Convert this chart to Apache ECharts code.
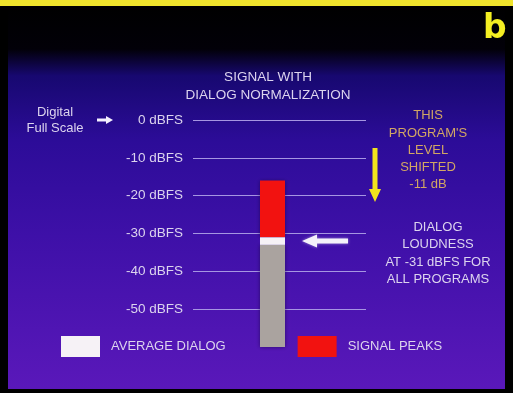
<!DOCTYPE html>
<html>
<head>
<meta charset="utf-8">
<script src="https://cdn.jsdelivr.net/npm/echarts@6/dist/echarts.min.js"></script>
<style>
  html, body { margin: 0; padding: 0; background: #000; }
  #chart { width: 513px; height: 393px; }
</style>
</head>
<body>
<div id="chart"></div>
<script>
// Level scale (dBFS) and its labels
const levelTicks = [0, -10, -20, -30, -40, -50];
const tickLabels = ['0 dBFS', '-10 dBFS', '-20 dBFS', '-30 dBFS', '-40 dBFS', '-50 dBFS'];
const scaleMin = -60;

// Programme level column (dBFS)
const peakTop = [-16];          // top of signal peaks
const dialogLevel = [-31];      // normalised dialog loudness
const dialogBandBottom = [-33]; // lower edge of the dialog band
const signalFloor = [-60];      // bottom of the signal column

// Stacked segments, measured downward from 0 dBFS
const spacerSeg = peakTop.map(v => v);
const peakSeg = peakTop.map((v, i) => dialogLevel[i] - v);
const dialogSeg = dialogLevel.map((v, i) => dialogBandBottom[i] - v);
const bodySeg = dialogBandBottom.map((v, i) => signalFloor[i] - v);

const FONT = '"Liberation Sans", Arial, Helvetica, sans-serif';
const TEXT = '#dcd4ee';
const GRID_LINE = '#a696e2';

const chart = echarts.init(document.getElementById('chart'), null, { renderer: 'canvas' });

const gridTop = 120, gridBottom = 46;
const splitColors = [];
for (let v = scaleMin; v <= 0; v += 10) splitColors.push(v < levelTicks[levelTicks.length - 1] ? 'rgba(0,0,0,0)' : GRID_LINE);

const shadow = { shadowBlur: 4, shadowColor: 'rgba(20,0,60,0.6)' };

const option = {
  animation: false,
  grid: [
    { left: 193, right: 147, top: gridTop, bottom: gridBottom },
    { left: 260, width: 25, top: gridTop, bottom: gridBottom }
  ],
  xAxis: [
    { type: 'category', gridIndex: 0, data: [''], show: false },
    { type: 'category', gridIndex: 1, data: [''], show: false }
  ],
  yAxis: [
    {
      type: 'value', gridIndex: 0, min: scaleMin, max: 0, interval: 10,
      axisLine: { show: false }, axisTick: { show: false },
      axisLabel: {
        margin: 10, color: TEXT, fontFamily: FONT, fontSize: 13.5,
        formatter: v => { const i = levelTicks.indexOf(v); return i >= 0 ? tickLabels[i] : ''; }
      },
      splitLine: { show: true, lineStyle: { color: splitColors, width: 1 } }
    },
    { type: 'value', gridIndex: 1, min: scaleMin, max: 0, show: false, splitLine: { show: false } }
  ],
  legend: {
    left: 61, top: 336, padding: 0, itemWidth: 39, itemHeight: 21, itemGap: 72,
    icon: 'rect', selectedMode: false,
    data: ['AVERAGE DIALOG', 'SIGNAL PEAKS'],
    textStyle: { color: TEXT, fontFamily: FONT, fontSize: 13, padding: [0, 0, 0, 6] }
  },
  series: [
    { type: 'bar', name: 'spacer', xAxisIndex: 1, yAxisIndex: 1, stack: 'col', barWidth: '100%',
      data: spacerSeg, itemStyle: { color: 'rgba(0,0,0,0)' }, silent: true },
    { type: 'bar', name: 'SIGNAL PEAKS', xAxisIndex: 1, yAxisIndex: 1, stack: 'col', barWidth: '100%', z: 2,
      data: peakSeg, itemStyle: Object.assign({ color: '#f21210' }, shadow) },
    { type: 'bar', name: 'AVERAGE DIALOG', xAxisIndex: 1, yAxisIndex: 1, stack: 'col', barWidth: '100%', z: 4,
      data: dialogSeg, itemStyle: { color: '#f6f2f6' } },
    { type: 'bar', name: 'signal', xAxisIndex: 1, yAxisIndex: 1, stack: 'col', barWidth: '100%', z: 2,
      data: bodySeg, itemStyle: Object.assign({ color: '#aaa39f' }, shadow) }
  ],
  graphic: [
    // backdrop
    { type: 'rect', z: -20, silent: true, shape: { x: 0, y: 0, width: 513, height: 393 }, style: { fill: '#000' } },
    { type: 'rect', z: -19, silent: true, shape: { x: 8, y: 7, width: 497, height: 382 },
      style: { fill: new echarts.graphic.LinearGradient(0, 0, 0, 1, [
        { offset: 0, color: '#000000' },
        { offset: 0.11, color: '#020008' },
        { offset: 0.18, color: '#170870' },
        { offset: 0.35, color: '#2c0c98' },
        { offset: 0.6, color: '#3e10a8' },
        { offset: 1, color: '#5a18ba' }
      ]) } },
    { type: 'rect', z: -18, silent: true, shape: { x: 0, y: 0, width: 513, height: 6 }, style: { fill: '#f0e42c' } },
    { type: 'text', z: 5, left: 483, top: 13,
      style: { text: 'b', fill: '#f4ee22', font: 'bold 33px "DejaVu Sans", sans-serif' } },
    // heading
    { type: 'text', z: 5, x: 268, y: 77,
      style: { text: 'SIGNAL WITH', fill: TEXT, font: '13.5px ' + FONT, align: 'center', verticalAlign: 'middle' } },
    { type: 'text', z: 5, x: 268, y: 95,
      style: { text: 'DIALOG NORMALIZATION', fill: TEXT, font: '13.5px ' + FONT, align: 'center', verticalAlign: 'middle' } },
    // full scale note
    { type: 'text', z: 5, x: 55, y: 112,
      style: { text: 'Digital', fill: TEXT, font: '13px ' + FONT, align: 'center', verticalAlign: 'middle' } },
    { type: 'text', z: 5, x: 55, y: 128,
      style: { text: 'Full Scale', fill: TEXT, font: '13px ' + FONT, align: 'center', verticalAlign: 'middle' } },
    { type: 'polygon', z: 5, shape: { points: [[97, 118.5], [106, 118.5], [106, 116], [113, 120], [106, 124], [106, 121.5], [97, 121.5]] },
      style: { fill: '#f4f0ff' } },
    // level shift note
    { type: 'polygon', z: 5, shape: { points: [[372.5, 148], [377.5, 148], [377.5, 189], [381, 189], [375, 202], [369, 189], [372.5, 189]] },
      style: { fill: '#f2e41c' } },
    { type: 'text', z: 5, x: 428, y: 115, style: { text: 'THIS', fill: '#d2a664', font: '13px ' + FONT, align: 'center', verticalAlign: 'middle' } },
    { type: 'text', z: 5, x: 428, y: 133, style: { text: "PROGRAM'S", fill: '#d2a664', font: '13px ' + FONT, align: 'center', verticalAlign: 'middle' } },
    { type: 'text', z: 5, x: 428, y: 150, style: { text: 'LEVEL', fill: '#d2a664', font: '13px ' + FONT, align: 'center', verticalAlign: 'middle' } },
    { type: 'text', z: 5, x: 428, y: 167, style: { text: 'SHIFTED', fill: '#d2a664', font: '13px ' + FONT, align: 'center', verticalAlign: 'middle' } },
    { type: 'text', z: 5, x: 428, y: 184, style: { text: '-11 dB', fill: '#d2a664', font: '13px ' + FONT, align: 'center', verticalAlign: 'middle' } },
    // dialog loudness note
    { type: 'polygon', z: 5, shape: { points: [[302, 241], [317, 234.5], [317, 238.5], [348, 238.5], [348, 243.5], [317, 243.5], [317, 247.5]] },
      style: { fill: '#f4f2fa', shadowBlur: 3, shadowColor: 'rgba(255,255,255,0.5)' } },
    { type: 'text', z: 5, x: 438, y: 227, style: { text: 'DIALOG', fill: TEXT, font: '13px ' + FONT, align: 'center', verticalAlign: 'middle' } },
    { type: 'text', z: 5, x: 438, y: 244, style: { text: 'LOUDNESS', fill: TEXT, font: '13px ' + FONT, align: 'center', verticalAlign: 'middle' } },
    { type: 'text', z: 5, x: 438, y: 262, style: { text: 'AT -31 dBFS FOR', fill: TEXT, font: '13px ' + FONT, align: 'center', verticalAlign: 'middle' } },
    { type: 'text', z: 5, x: 438, y: 279, style: { text: 'ALL PROGRAMS', fill: TEXT, font: '13px ' + FONT, align: 'center', verticalAlign: 'middle' } }
  ]
};

chart.setOption(option);
</script>
</body>
</html>
